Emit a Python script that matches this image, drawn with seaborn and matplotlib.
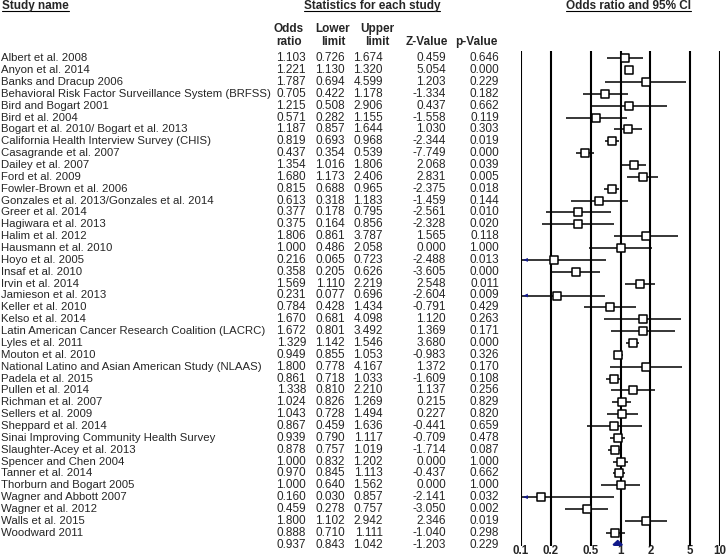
import matplotlib
matplotlib.use("Agg")
import matplotlib.pyplot as plt
import matplotlib.transforms as mtransforms
import numpy as np
import pandas as pd
import seaborn as sns

studies = [
    "Albert et al. 2008", "Anyon et al. 2014", "Banks and Dracup 2006",
    "Behavioral Risk Factor Surveillance System (BRFSS)", "Bird and Bogart 2001",
    "Bird et al. 2004", "Bogart et al. 2010/ Bogart et al. 2013",
    "California Health Interview Survey (CHIS)", "Casagrande et al. 2007",
    "Dailey et al. 2007", "Ford et al. 2009", "Fowler-Brown et al. 2006",
    "Gonzales et al. 2013/Gonzales et al. 2014", "Greer et al. 2014",
    "Hagiwara et al. 2013", "Halim et al. 2012", "Hausmann et al. 2010",
    "Hoyo et al. 2005", "Insaf et al. 2010", "Irvin et al. 2014",
    "Jamieson et al. 2013", "Keller et al. 2010", "Kelso et al. 2014",
    "Latin American Cancer Research Coalition (LACRC)", "Lyles et al. 2011",
    "Mouton et al. 2010", "National Latino and Asian American Study (NLAAS)",
    "Padela et al. 2015", "Pullen et al. 2014", "Richman et al. 2007",
    "Sellers et al. 2009", "Sheppard et al. 2014",
    "Sinai Improving Community Health Survey", "Slaughter-Acey et al. 2013",
    "Spencer and Chen 2004", "Tanner et al. 2014", "Thorburn and Bogart 2005",
    "Wagner and Abbott 2007", "Wagner et al. 2012", "Walls et al. 2015",
    "Woodward 2011",
]
odds_ratio = [1.103, 1.221, 1.787, 0.705, 1.215, 0.571, 1.187, 0.819, 0.437, 1.354,
              1.680, 0.815, 0.613, 0.377, 0.375, 1.806, 1.000, 0.216, 0.358, 1.569,
              0.231, 0.784, 1.670, 1.672, 1.329, 0.949, 1.800, 0.861, 1.338, 1.024,
              1.043, 0.867, 0.939, 0.878, 1.000, 0.970, 1.000, 0.160, 0.459, 1.800,
              0.888]
lower = [0.726, 1.130, 0.694, 0.422, 0.508, 0.282, 0.857, 0.693, 0.354, 1.016,
         1.173, 0.688, 0.318, 0.178, 0.164, 0.861, 0.486, 0.065, 0.205, 1.110,
         0.077, 0.428, 0.681, 0.801, 1.142, 0.855, 0.778, 0.718, 0.810, 0.826,
         0.728, 0.459, 0.790, 0.757, 0.832, 0.845, 0.640, 0.030, 0.278, 1.102,
         0.710]
upper = [1.674, 1.320, 4.599, 1.178, 2.906, 1.155, 1.644, 0.968, 0.539, 1.806,
         2.406, 0.965, 1.183, 0.795, 0.856, 3.787, 2.058, 0.723, 0.626, 2.219,
         0.696, 1.434, 4.098, 3.492, 1.546, 1.053, 4.167, 1.033, 2.210, 1.269,
         1.494, 1.636, 1.117, 1.019, 1.202, 1.113, 1.562, 0.857, 0.757, 2.942,
         1.111]
z_value = [0.459, 5.054, 1.203, -1.334, 0.437, -1.558, 1.030, -2.344, -7.749, 2.068,
           2.831, -2.375, -1.459, -2.561, -2.328, 1.565, 0.000, -2.488, -3.605, 2.548,
           -2.604, -0.791, 1.120, 1.369, 3.680, -0.983, 1.372, -1.609, 1.137, 0.215,
           0.227, -0.441, -0.709, -1.714, 0.000, -0.437, 0.000, -2.141, -3.050, 2.346,
           -1.040]
p_value = [0.646, 0.000, 0.229, 0.182, 0.662, 0.119, 0.303, 0.019, 0.000, 0.039,
           0.005, 0.018, 0.144, 0.010, 0.020, 0.118, 1.000, 0.013, 0.000, 0.011,
           0.009, 0.429, 0.263, 0.171, 0.000, 0.326, 0.170, 0.108, 0.256, 0.829,
           0.820, 0.659, 0.478, 0.087, 1.000, 0.662, 1.000, 0.032, 0.002, 0.019,
           0.298]
summary = {"or": 0.937, "lower": 0.843, "upper": 1.042, "z": -1.203, "p": 0.229}
ticks = [0.1, 0.2, 0.5, 1, 2, 5, 10]
tick_labels = ["0.1", "0.2", "0.5", "1", "2", "5", "10"]

df = pd.DataFrame({"study": studies, "or": odds_ratio, "lower": lower,
                   "upper": upper, "z": z_value, "p": p_value})
df["row"] = np.arange(len(df))
sum_row = len(df)

sns.set_theme(style="white")
plt.rcParams["font.family"] = ["Liberation Sans", "DejaVu Sans"]
FS = 8.5
FS_NAME = 8.2
NAVY = "#10188a"

W, H = 727, 558
fig = plt.figure(figsize=(W / 100, H / 100), dpi=100)

# full-figure axes in pixel units for the table text
tx = fig.add_axes([0, 0, 1, 1])
tx.set_xlim(0, W)
tx.set_ylim(H, 0)
tx.axis("off")

# forest plot axes
left_px, right_px, top_px, bot_px = 521, 720, 51, 546
row0_px, step_px = 58.3, 11.86
ax = fig.add_axes([left_px / W, (H - bot_px) / H, (right_px - left_px) / W,
                   (bot_px - top_px) / H])
ax.set_xscale("log")
ax.set_xlim(0.1, 10)
ax.set_ylim((bot_px - row0_px) / step_px, (top_px - row0_px) / step_px)
for s in ax.spines.values():
    s.set_visible(False)
ax.set_facecolor("none")
for t in ticks:
    ax.axvline(t, color="black", lw=1.5, zorder=1)
ax.set_xticks(ticks)
ax.set_xticklabels(tick_labels, fontweight="bold", fontsize=8.3)
ax.xaxis.set_minor_locator(matplotlib.ticker.NullLocator())
ax.tick_params(axis="x", length=0, pad=-0.5)
ax.set_yticks([])

# confidence intervals, clipped at the axis edge with an arrow
lo_clip = df["lower"].clip(lower=0.1)
ax.hlines(df["row"], lo_clip, df["upper"], color="black", lw=1.1, zorder=2)
for _, r in df[df["lower"] < 0.1].iterrows():
    ax.annotate("", xy=(0.1, r["row"]), xytext=(0.115, r["row"]),
                arrowprops=dict(arrowstyle="-|>", color=NAVY, lw=0.6,
                                mutation_scale=5), zorder=3)
sns.scatterplot(data=df, x="or", y="row", marker="s", s=30, color="white",
                edgecolor="black", linewidth=1.1, ax=ax, zorder=4, legend=False)
ax.set_xlabel("")
ax.set_ylabel("")
dh = 0.36
ax.fill([summary["lower"], summary["or"], summary["upper"], summary["or"]],
        [sum_row, sum_row - dh, sum_row, sum_row + dh], color=NAVY, zorder=4,
        lw=0.8, edgecolor=NAVY)

# table text: x in pixels, y in row units of the forest axes
trans = mtransforms.blended_transform_factory(tx.transData, ax.transData)
col_right = [306, 345, 383, 446, 499]
for i, r in df.iterrows():
    tx.text(1, r["row"], r["study"], transform=trans, fontsize=FS_NAME,
            va="center", ha="left")
    for xr, key in zip(col_right, ["or", "lower", "upper", "z", "p"]):
        tx.text(xr, r["row"], f"{r[key]:.3f}", transform=trans, fontsize=FS,
                va="center", ha="right")
for xr, key in zip(col_right, ["or", "lower", "upper", "z", "p"]):
    tx.text(xr, sum_row, f"{summary[key]:.3f}", transform=trans, fontsize=FS,
            va="center", ha="right")

# column headers
headers = [("Odds\nratio", 289), ("Lower\nlimit", 333), ("Upper\nlimit", 377),
           ("Z-Value", 427), ("p-Value", 476)]
for lab, xc in headers:
    tx.text(xc, 45, lab, fontsize=FS, fontweight="bold", ha="center",
            va="baseline", linespacing=1.1)

# underlined section titles
titles = [("Study name", 2, "left"), ("Statistics for each study", 372, "center"),
          ("Odds ratio and 95% CI", 628, "center")]
fig.canvas.draw()
rend = fig.canvas.get_renderer()
for lab, xc, ha in titles:
    t = tx.text(xc, 9, lab, fontsize=FS, fontweight="bold", ha=ha, va="baseline")
    bb = t.get_window_extent(rend)
    tx.plot([bb.x0, bb.x1], [11, 11], color="black", lw=0.8)

fig.savefig("out.png", dpi=100)
